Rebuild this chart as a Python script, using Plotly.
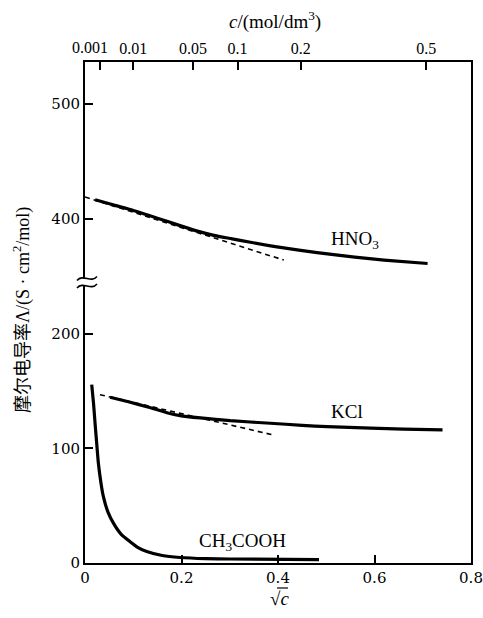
import plotly.graph_objects as go

# Data (sqrt(c) vs molar conductivity, real values in S·cm²/mol)
hno3_x = [0.021, 0.06, 0.094, 0.15, 0.197, 0.235, 0.267, 0.305, 0.343, 0.405, 0.481, 0.559, 0.62, 0.71]
hno3_y = [416.5, 412.0, 408.0, 400.5, 394.0, 389.0, 385.5, 382.5, 379.5, 375.0, 370.5, 366.5, 364.0, 361.0]
hno3_lim_x = [0.0, 0.412]
hno3_lim_y = [419.0, 364.0]

kcl_x = [0.052, 0.09, 0.13, 0.17, 0.197, 0.239, 0.301, 0.384, 0.45, 0.502, 0.592, 0.66, 0.741]
kcl_y = [144.5, 140.5, 136.0, 131.0, 128.5, 126.4, 124.0, 121.8, 120.0, 118.8, 117.5, 116.6, 116.0]
kcl_lim_x = [0.031, 0.388]
kcl_lim_y = [146.7, 111.8]

hac_x = [0.0139, 0.0175, 0.0208, 0.0245, 0.0277, 0.033, 0.038, 0.047, 0.0589, 0.075, 0.0935,
         0.11, 0.128, 0.16, 0.197, 0.25, 0.3, 0.485]
hac_y = [155.5, 140.0, 122.0, 103.0, 87.0, 70.0, 58.0, 45.0, 34.7, 25.0, 18.6,
         13.5, 10.0, 6.5, 4.8, 3.8, 3.5, 3.0]

top_c_labels = ["0.001", "0.01", "0.05", "0.1", "0.2", "0.5"]
top_c_values = [0.001, 0.01, 0.05, 0.1, 0.2, 0.5]

y_tick_real = [0, 100, 200, 400, 500]
BREAK_CUT = 100  # values above the break are shifted down by this amount


def disp(vals):
    return [v - BREAK_CUT if v > 300 else v for v in vals]


y_tick_disp = disp(y_tick_real)

SERIF = "Liberation Serif, Times New Roman, serif"
TICKF = "DejaVu Serif, serif"

fig = go.Figure()
line_solid = dict(color="black", width=3.2)
line_dash = dict(color="black", width=1.6, dash="5px,4px")

fig.add_trace(go.Scatter(x=hno3_x, y=disp(hno3_y), mode="lines", line_shape="spline", line=dict(line_solid, smoothing=0.6)))
fig.add_trace(go.Scatter(x=hno3_lim_x, y=disp(hno3_lim_y), mode="lines", line=line_dash))
fig.add_trace(go.Scatter(x=kcl_x, y=kcl_y, mode="lines", line_shape="spline", line=dict(line_solid, smoothing=0.6)))
fig.add_trace(go.Scatter(x=kcl_lim_x, y=kcl_lim_y, mode="lines", line=line_dash))
fig.add_trace(go.Scatter(x=hac_x, y=hac_y, mode="lines", line_shape="spline", line=dict(line_solid, smoothing=0.5)))
# invisible trace to activate the top axis
fig.add_trace(go.Scatter(x=[0, 0.8], y=[0, 0], xaxis="x2", mode="markers",
                         marker=dict(opacity=0), hoverinfo="skip"))

tick_font = dict(family=TICKF, size=15, color="black")
top_font = dict(family=SERIF, size=16, color="black")

top_tickvals = [v ** 0.5 for v in top_c_values]
# first label is drawn separately (shifted left, as in the original)
top_ticktext = [""] + top_c_labels[1:]

fig.update_layout(
    width=483, height=618,
    margin=dict(l=85, r=12, t=62, b=55),
    paper_bgcolor="white", plot_bgcolor="white",
    showlegend=False,
    xaxis=dict(range=[0, 0.8], tickvals=[0, 0.2, 0.4, 0.6, 0.8],
               ticktext=["0", "0.2", "0.4", "0.6", "0.8"], automargin=False, tickangle=0,
               ticks="inside", ticklen=8, tickwidth=1.5, tickcolor="black",
               showline=True, linecolor="black", linewidth=2,
               showgrid=False, zeroline=False, tickfont=tick_font),
    xaxis2=dict(range=[0, 0.8], overlaying="x", side="top", automargin=False, tickangle=0,
                tickvals=top_tickvals, ticktext=top_ticktext,
                ticks="inside", ticklen=8, tickwidth=1.5, tickcolor="black",
                showline=True, linecolor="black", linewidth=2,
                showgrid=False, zeroline=False, tickfont=top_font),
    yaxis=dict(range=[0, 436.6], tickvals=y_tick_disp, ticktext=[str(v) for v in y_tick_real],
               automargin=False,
               ticks="inside", ticklen=8, tickwidth=1.5, tickcolor="black",
               showline=True, linecolor="black", linewidth=2, mirror=True,
               showgrid=False, zeroline=False, tickfont=tick_font),
)

W, H = 386.0, 501.0
def px(x):
    return (x - 85) / W
def py(y):
    return (563 - y) / H

fig.add_annotation(xref="x2", yref="paper", x=top_tickvals[0], y=py(47), xshift=-10,
                   xanchor="center", yanchor="middle", text=top_c_labels[0],
                   showarrow=False, font=top_font)

ann_font = dict(family=SERIF, size=19, color="black")
fig.add_annotation(x=0.559, y=281.5, text="HNO<sub>3</sub>", showarrow=False, font=ann_font)
fig.add_annotation(x=0.542, y=131.6, text="KCl", showarrow=False, font=ann_font)
fig.add_annotation(x=0.326, y=18.3, text="CH<sub>3</sub>COOH", showarrow=False, font=ann_font)

fig.add_annotation(xref="paper", yref="paper", x=px(275), y=py(20), xanchor="center", yanchor="middle",
                   text="<i>c</i>/(mol/dm<sup>3</sup>)", showarrow=False, font=ann_font)
fig.add_annotation(xref="paper", yref="paper", x=px(279), y=py(598), xanchor="center", yanchor="middle",
                   text="√<i>c</i>", showarrow=False,
                   font=dict(family=SERIF, size=19, color="black"))
fig.add_annotation(xref="paper", yref="paper", x=px(21), y=py(310), xanchor="center", yanchor="middle",
                   textangle=-90,
                   text="<span style='font-family:Noto Sans CJK SC'>摩尔电导率</span>Λ/(S · cm<sup>2</sup>/mol)",
                   showarrow=False, font=dict(family=SERIF, size=18, color="black"))

# vinculum of the square root over c
fig.add_shape(type="line", xref="paper", yref="paper",
              x0=px(277), x1=px(288), y0=py(588), y1=py(588),
              line=dict(color="black", width=1.2))

# axis break symbol
fig.add_shape(type="rect", xref="paper", yref="paper",
              x0=px(82), x1=px(88), y0=py(285), y1=py(279),
              fillcolor="white", line=dict(width=0), layer="above")
for yc in (278.5, 286.0):
    path = (f"M {px(77)},{py(yc + 2)} C {px(83)},{py(yc - 5)} {px(91)},{py(yc + 5)} {px(97)},{py(yc - 2)}")
    fig.add_shape(type="path", xref="paper", yref="paper", path=path,
                  line=dict(color="black", width=1.6), layer="above")

fig.write_html("out.html", config={"displayModeBar": False},
               post_script="document.body.style.margin='0';document.body.style.overflow='hidden';")
